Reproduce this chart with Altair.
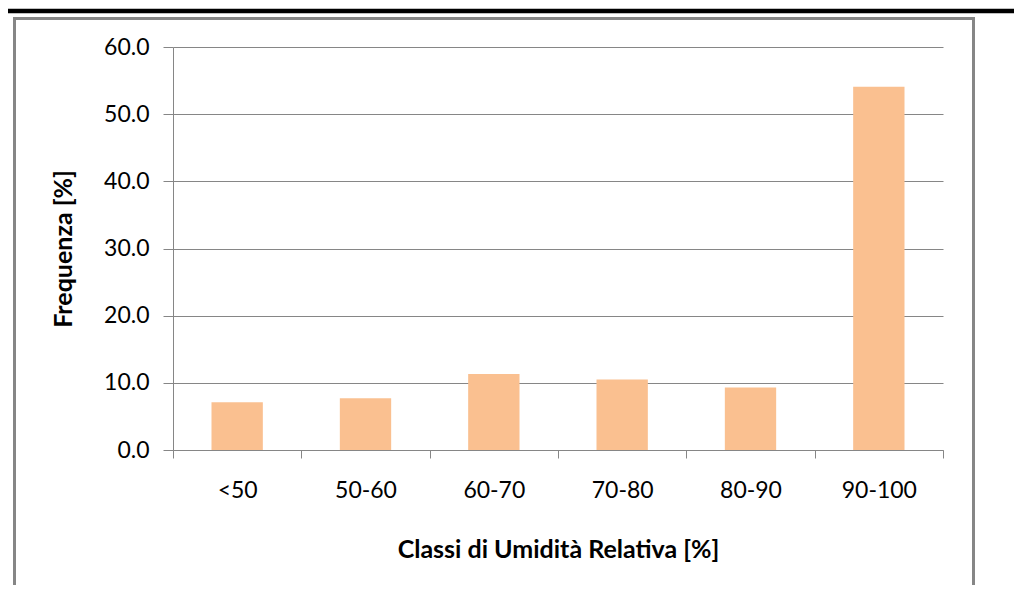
import altair as alt
import pandas as pd

categories = ["<50", "50-60", "60-70", "70-80", "80-90", "90-100"]
frequencies = [7.1, 7.7, 11.3, 10.5, 9.3, 54.1]
y_ticks = [0, 10, 20, 30, 40, 50, 60]

df = pd.DataFrame({"classe": categories, "freq": frequencies})

W, H = 770, 403
GREY = "#868686"
FONT = "Lato"

bars = alt.Chart(df).mark_bar(color="#FAC090", width=alt.RelativeBandSize(0.4)).encode(
    x=alt.X("classe:N", sort=categories,
            scale=alt.Scale(paddingInner=0, paddingOuter=0),
            axis=alt.Axis(title="Classi di Umidità Relativa [%]", labelAngle=0,
                          tickBand="extent", tickSize=8, tickColor=GREY,
                          domainColor=GREY, labelPadding=21, titlePadding=35,
                          grid=False)),
    y=alt.Y("freq:Q", scale=alt.Scale(domain=[0, 60], nice=False),
            axis=alt.Axis(title="Frequenza [%]", values=y_ticks, format=".1f",
                          tickSize=10, tickColor=GREY, domainColor=GREY,
                          gridColor=GREY, grid=True, labelPadding=14,
                          titlePadding=27)),
)

one = pd.DataFrame({"k": [0]})
black_line = alt.Chart(one).mark_rule(color="black", strokeWidth=4.5).encode(
    x=alt.value(-170), x2=alt.value(860), y=alt.value(-36))
frame_top = alt.Chart(one).mark_rule(color=GREY, strokeWidth=3).encode(
    x=alt.value(-160), x2=alt.value(802), y=alt.value(-28.5))
frame_left = alt.Chart(one).mark_rule(color=GREY, strokeWidth=3).encode(
    x=alt.value(-158.5), y=alt.value(-30), y2=alt.value(560))
frame_right = alt.Chart(one).mark_rule(color=GREY, strokeWidth=3).encode(
    x=alt.value(800.5), y=alt.value(-30), y2=alt.value(560))

chart = alt.layer(bars, black_line, frame_top, frame_left, frame_right).properties(
    width=W, height=H,
    background="white",
    autosize=alt.AutoSizeParams(type="none"),
    padding={"left": 165, "top": 39, "right": 71, "bottom": 135},
).configure_view(strokeOpacity=0).configure_axis(
    labelFont=FONT, labelFontSize=23, labelColor="black",
    titleFont=FONT, titleFontSize=25, titleFontWeight="bold", titleColor="black",
    domainWidth=1, tickWidth=1, gridWidth=1,
)

chart.save("out.html", embed_options={"renderer": "svg", "actions": False})
